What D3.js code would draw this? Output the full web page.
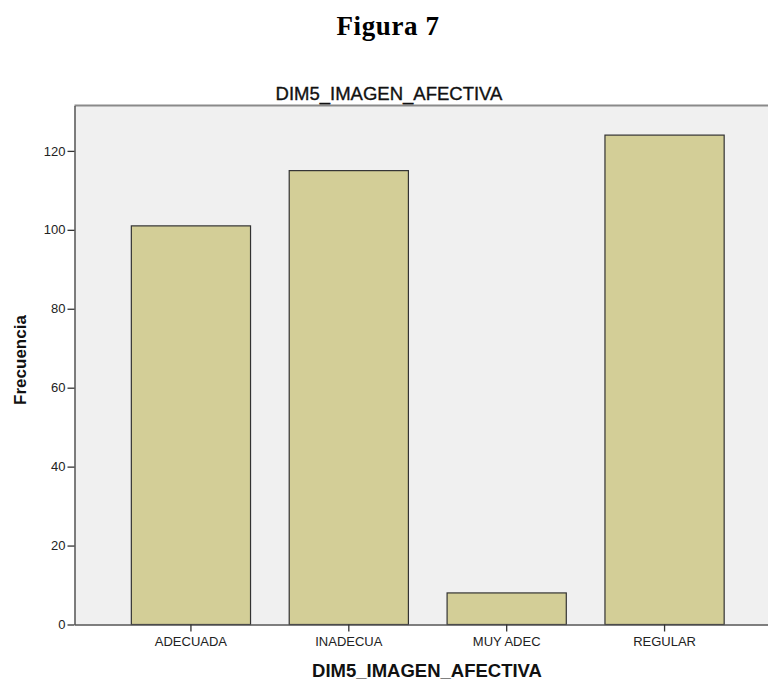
<!DOCTYPE html>
<html><head><meta charset="utf-8">
<script src="https://cdn.jsdelivr.net/npm/d3@7"></script>
<style>body{margin:0;background:#fff}svg{display:block}</style>
</head><body>
<svg id="c" width="768" height="684"></svg>
<script>
const categories = ["ADECUADA", "INADECUA", "MUY ADEC", "REGULAR"];
const values = [101, 115, 8, 124];
const yTicks = [0, 20, 40, 60, 80, 100, 120];
const title = "DIM5_IMAGEN_AFECTIVA";
const figTitle = "Figura 7";
const xLabel = "DIM5_IMAGEN_AFECTIVA";
const yLabel = "Frecuencia";

const svg = d3.select("#c");
const L = 74.5, R = 781, T = 105.5, B = 624.5;
const sans = "Liberation Sans, Arial, sans-serif";

const x = d3.scaleBand().domain(categories).range([L, R]).paddingInner(0.245).paddingOuter(0.36);
const y = d3.scaleLinear().domain([0, 131.5]).range([B, T]);

svg.append("text").attr("x", 388).attr("y", 35).attr("text-anchor", "middle")
  .attr("font-family", "Liberation Serif, serif").attr("font-weight", "bold").attr("font-size", 27)
  .attr("letter-spacing", 0.6).attr("fill", "#000").text(figTitle);

svg.append("rect").attr("x", L).attr("y", T).attr("width", R - L).attr("height", B - T)
  .attr("fill", "#f0f0f0");
svg.append("line").attr("x1", L).attr("x2", R).attr("y1", T).attr("y2", T)
  .attr("stroke", "#8a8a8a").attr("stroke-width", 2);

svg.append("text").attr("x", 389).attr("y", 100).attr("text-anchor", "middle")
  .attr("font-family", sans).attr("font-size", 18.5)
  .attr("fill", "#111").attr("stroke", "#111").attr("stroke-width", 0.35).text(title);

svg.selectAll("rect.bar").data(values).enter().append("rect").attr("class", "bar")
  .attr("x", (d, i) => x(categories[i]))
  .attr("width", x.bandwidth())
  .attr("y", d => y(d))
  .attr("height", d => B - y(d))
  .attr("fill", "#d3ce97").attr("stroke", "#333").attr("stroke-width", 1.2);

const ya = svg.append("g").attr("transform", `translate(${L},0)`)
  .call(d3.axisLeft(y).tickValues(yTicks).tickSize(7).tickSizeOuter(0).tickPadding(2));
ya.select(".domain").attr("stroke", "#555").attr("stroke-width", 1.5);
ya.selectAll(".tick line").attr("stroke", "#333").attr("stroke-width", 1.3);
ya.selectAll(".tick text").attr("font-family", sans)
  .attr("font-size", 13).attr("fill", "#222");

const xa = svg.append("g").attr("transform", `translate(0,${B})`)
  .call(d3.axisBottom(x).tickSize(7).tickPadding(5).tickSizeOuter(0));
xa.select(".domain").attr("stroke", "#555").attr("stroke-width", 1.5);
xa.selectAll(".tick line").attr("stroke", "#333").attr("stroke-width", 1.3);
xa.selectAll(".tick text").attr("font-family", sans)
  .attr("font-size", 13).attr("fill", "#222");

svg.append("text").attr("x", 427).attr("y", 677).attr("text-anchor", "middle")
  .attr("font-family", sans).attr("font-weight", "bold").attr("font-size", 18.5)
  .attr("fill", "#111").text(xLabel);

svg.append("text").attr("transform", "translate(26,360) rotate(-90)").attr("text-anchor", "middle")
  .attr("font-family", sans).attr("font-weight", "bold").attr("font-size", 17)
  .attr("fill", "#111").text(yLabel);
</script>
</body></html>
